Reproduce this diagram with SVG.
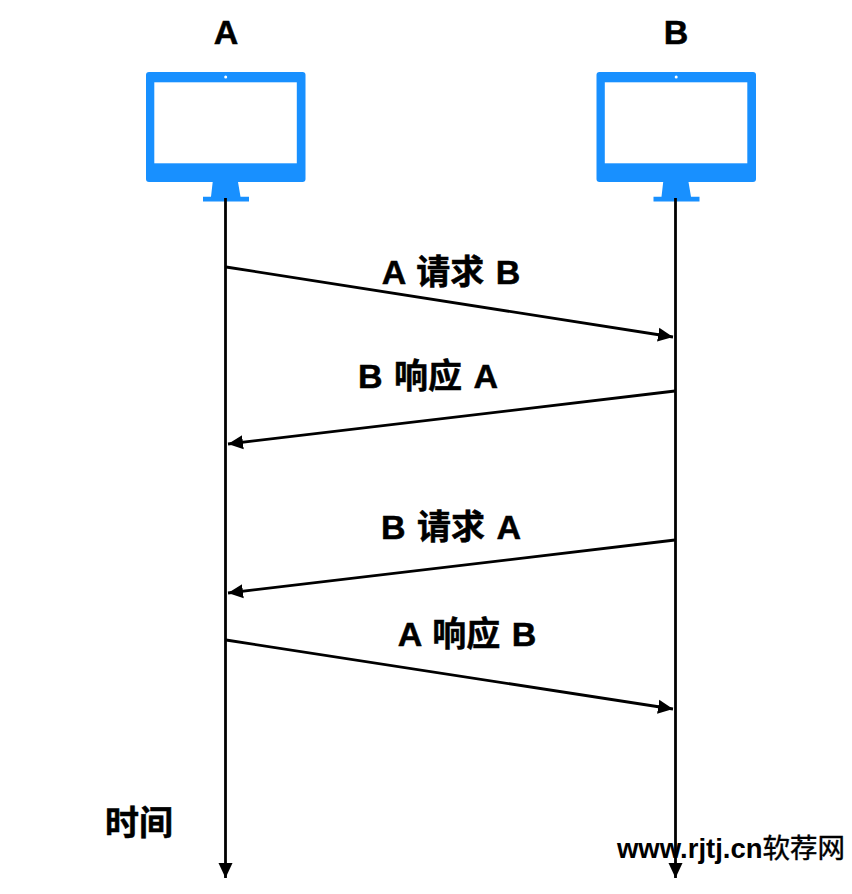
<svg xmlns="http://www.w3.org/2000/svg" width="852" height="894" viewBox="0 0 852 894">
<style>
.t{font-family:"Liberation Sans","Noto Sans CJK SC",sans-serif;font-weight:700;font-size:34px;fill:#000;text-anchor:middle;word-spacing:2px;stroke:#000;stroke-width:.5px}
.l{stroke:#000;stroke-width:2.8;fill:none}
.m{fill:#1890ff}
.w{fill:#fff}
</style>
<defs>
<marker id="a" markerUnits="userSpaceOnUse" markerWidth="17" markerHeight="16" refX="15" refY="8" orient="auto"><path d="M0 1L15 8L0 15z" fill="#000"/></marker>
<g id="pc">
<rect class="m" x="146" y="72" width="159.500" height="110" rx="3"/>
<rect class="w" x="154.300" y="82.300" width="142.500" height="81"/>
<circle class="w" cx="225.700" cy="77" r="1.500"/>
<path class="m" d="M212.700 182H238L240.500 196.700H249V201.500H203V196.700H211z"/>
</g>
</defs>
<rect width="852" height="894" fill="#fff"/>
<g id="nodeA"><text class="t" x="226" y="44">A</text><use href="#pc"/></g>
<g id="nodeB"><text class="t" x="676" y="44">B</text><use href="#pc" x="450.500"/></g>
<g id="connectors">
<path class="l" marker-end="url(#a)" d="M225.500 198V878"/>
<path class="l" marker-end="url(#a)" d="M675.500 198V878"/>
<path class="l" marker-end="url(#a)" d="M226 267L673 337"/>
<path class="l" marker-end="url(#a)" d="M675 391L228 444"/>
<path class="l" marker-end="url(#a)" d="M675 540L228 593"/>
<path class="l" marker-end="url(#a)" d="M226 640L673 709"/>
</g>
<g id="labels">
<text class="t" x="451" y="284">A 请求 B</text>
<text class="t" x="428" y="388">B 响应 A</text>
<text class="t" x="451" y="539">B 请求 A</text>
<text class="t" x="467" y="646">A 响应 B</text>
<text class="t" x="139" y="835">时间</text>
</g>
<text x="731" y="858" font-family="'Liberation Sans','Noto Sans CJK SC',sans-serif" font-weight="700" font-size="27.500" text-anchor="middle" fill="#000">www.rjtj.cn<tspan font-weight="400" stroke="#000" stroke-width=".4">软荐网</tspan></text>
</svg>
